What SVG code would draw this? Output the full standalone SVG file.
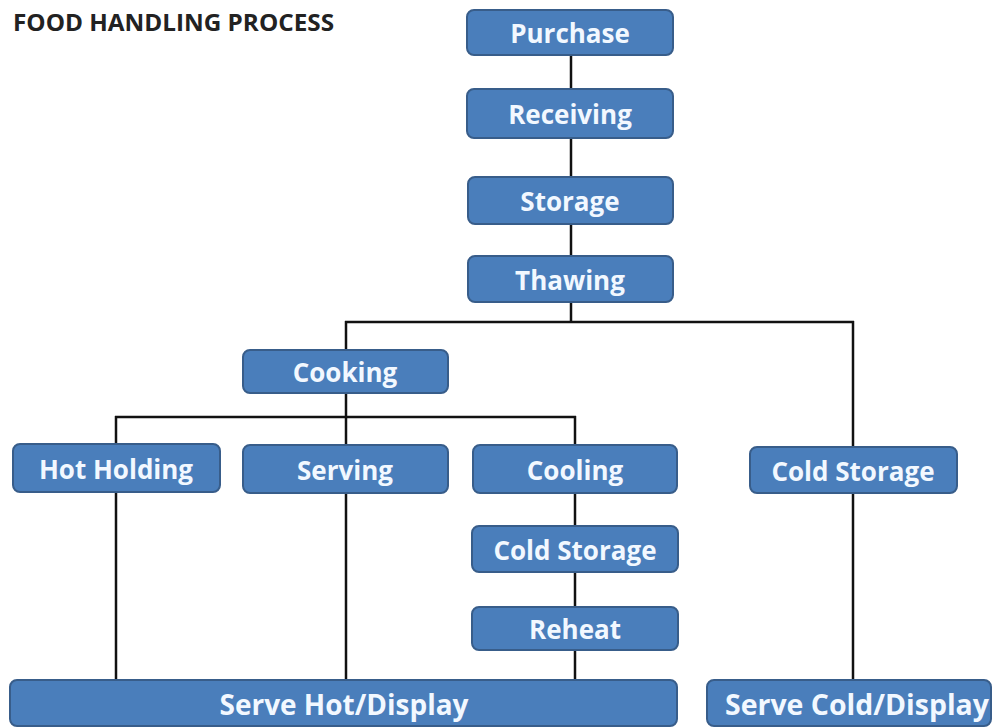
<svg xmlns="http://www.w3.org/2000/svg" width="996" height="728" viewBox="0 0 996 728">
<style>
.box{fill:#4a7ebb;stroke:#385d8a;stroke-width:2}
.lbl{font-family:"Open Sans","Liberation Sans",sans-serif;font-weight:bold;font-size:26px;fill:#f2f8ff;text-anchor:middle}
.big{font-size:29px}
.title{font-family:"Open Sans","Liberation Sans",sans-serif;font-weight:bold;font-size:23px;fill:#222}
.conn line{stroke:#111;stroke-width:2.5}
</style>
<rect width="996" height="728" fill="#ffffff"/>
<text class="title" x="13" y="31" textLength="321" lengthAdjust="spacingAndGlyphs">FOOD HANDLING PROCESS</text>
<g id="connectors" class="conn">
<line x1="571" y1="55" x2="571" y2="89"/>
<line x1="571" y1="138" x2="571" y2="177"/>
<line x1="571" y1="224" x2="571" y2="256"/>
<line x1="571" y1="302" x2="571" y2="322"/>
<line x1="345" y1="322" x2="854" y2="322"/>
<line x1="346" y1="321" x2="346" y2="350"/>
<line x1="853" y1="321" x2="853" y2="447"/>
<line x1="346" y1="393" x2="346" y2="417"/>
<line x1="115" y1="417" x2="576" y2="417"/>
<line x1="116" y1="416" x2="116" y2="444"/>
<line x1="346" y1="417" x2="346" y2="445"/>
<line x1="575" y1="416" x2="575" y2="445"/>
<line x1="116" y1="492" x2="116" y2="680"/>
<line x1="346" y1="493" x2="346" y2="680"/>
<line x1="575" y1="493" x2="575" y2="526"/>
<line x1="575" y1="572" x2="575" y2="607"/>
<line x1="575" y1="650" x2="575" y2="680"/>
<line x1="853" y1="493" x2="853" y2="680"/>
</g>
<g id="purchase"><rect class="box" x="467" y="10" width="206" height="45" rx="7"/><text class="lbl" x="570" y="43">Purchase</text></g>
<g id="receiving"><rect class="box" x="467" y="89" width="206" height="49" rx="7"/><text class="lbl" x="570" y="124">Receiving</text></g>
<g id="storage"><rect class="box" x="468" y="177" width="205" height="47" rx="7"/><text class="lbl" x="570" y="211">Storage</text></g>
<g id="thawing"><rect class="box" x="468" y="256" width="205" height="46" rx="7"/><text class="lbl" x="570" y="290">Thawing</text></g>
<g id="cooking"><rect class="box" x="243" y="350" width="205" height="43" rx="7"/><text class="lbl" x="345" y="382">Cooking</text></g>
<g id="hot-holding"><rect class="box" x="13" y="444" width="207" height="48" rx="7"/><text class="lbl" x="116" y="479">Hot Holding</text></g>
<g id="serving"><rect class="box" x="243" y="445" width="205" height="48" rx="7"/><text class="lbl" x="345" y="480">Serving</text></g>
<g id="cooling"><rect class="box" x="473" y="445" width="204" height="48" rx="7"/><text class="lbl" x="575" y="480">Cooling</text></g>
<g id="cold-storage-right"><rect class="box" x="750" y="447" width="207" height="46" rx="7"/><text class="lbl" x="853" y="481">Cold Storage</text></g>
<g id="cold-storage-mid"><rect class="box" x="472" y="526" width="206" height="46" rx="7"/><text class="lbl" x="575" y="560">Cold Storage</text></g>
<g id="reheat"><rect class="box" x="472" y="607" width="206" height="43" rx="7"/><text class="lbl" x="575" y="639">Reheat</text></g>
<g id="serve-hot"><rect class="box" x="10" y="680" width="667" height="46" rx="7"/><text class="lbl big" x="344" y="715" textLength="249" lengthAdjust="spacingAndGlyphs">Serve Hot/Display</text></g>
<g id="serve-cold"><rect class="box" x="707" y="680" width="284" height="46" rx="7"/><text class="lbl big" x="857" y="715" textLength="264" lengthAdjust="spacingAndGlyphs">Serve Cold/Display</text></g>
</svg>
